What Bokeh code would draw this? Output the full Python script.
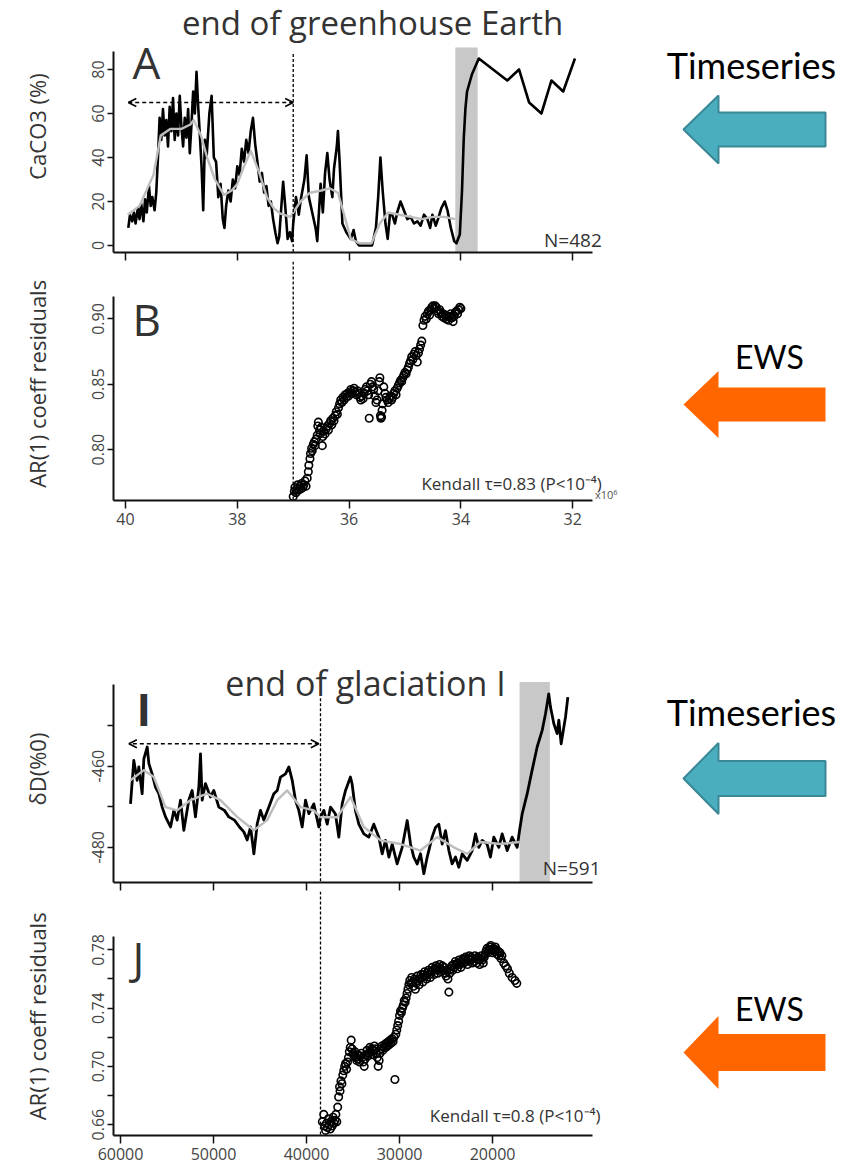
from bokeh.plotting import figure
from bokeh.models import (Range1d, FixedTicker, PrintfTickFormatter, Label, Arrow,
                          OpenHead, Span, Spacer)
from bokeh.layouts import column, row
from bokeh.embed import file_html
from bokeh.resources import INLINE

# ---------------- data: panel A (CaCO3 %, age in Ma) ----------------
A_age = [39.95, 39.92, 39.88, 39.85, 39.82, 39.78, 39.75, 39.72, 39.68, 39.65,
         39.62, 39.58, 39.55, 39.52, 39.48, 39.45, 39.42, 39.39, 39.36, 39.33,
         39.30, 39.27, 39.24, 39.21, 39.18, 39.15, 39.12, 39.09, 39.06, 39.03,
         39.00, 38.97, 38.94, 38.91, 38.88, 38.85, 38.82, 38.79, 38.76, 38.73,
         38.70, 38.67, 38.64, 38.61, 38.58, 38.55, 38.50, 38.46, 38.42, 38.38,
         38.34, 38.30, 38.26, 38.23, 38.20, 38.16, 38.12, 38.08, 38.04, 38.00,
         37.96, 37.92, 37.88, 37.84, 37.80, 37.76, 37.72, 37.68, 37.64, 37.60,
         37.56, 37.52, 37.48, 37.44, 37.40, 37.36, 37.32, 37.28, 37.25, 37.22,
         37.18, 37.14, 37.10, 37.06, 37.02, 37.00, 36.95, 36.90, 36.87, 36.80,
         36.76, 36.72, 36.66, 36.60, 36.57, 36.51, 36.47, 36.43, 36.39, 36.35,
         36.30, 36.27, 36.22, 36.20, 36.17, 36.12, 36.05, 35.97, 35.92, 35.88,
         35.82, 35.70, 35.59, 35.52, 35.48, 35.44, 35.40, 35.35, 35.31, 35.27,
         35.23, 35.18, 35.14, 35.08, 35.02, 34.96, 34.90, 34.84, 34.78, 34.72,
         34.66, 34.60, 34.55, 34.51, 34.45, 34.41, 34.35, 34.29, 34.24, 34.18,
         34.12, 34.08, 34.02, 33.98, 33.95, 33.92, 33.89, 33.80, 33.68, 33.17,
         32.96, 32.78, 32.56, 32.38, 32.17, 31.96]
A_caco3 = [8, 14, 11, 15, 10, 17, 12, 19, 11, 21,
           15, 27, 18, 22, 16, 24, 40, 58, 48, 62,
           50, 57, 45, 63, 52, 67, 48, 60, 50, 68,
           54, 45, 58, 49, 62, 42, 55, 70, 60, 79,
           63, 50, 36, 16, 48, 40, 60, 68, 40, 38,
           22, 28, 12, 8, 18, 25, 20, 30, 26, 36,
           32, 44, 38, 48, 42, 52, 58, 46, 38, 29,
           33, 24, 27, 18, 20, 12, 6, 1, 4, 15,
           29, 17, 3, 6, 2, 10, 22, 14, 20, 30,
           41, 22, 15, 8, 2, 28, 15, 33, 42, 30,
           22, 35, 45, 52, 38, 10, 6, 3, 7, 2,
           0, 0, 0, 8, 22, 40, 25, 10, 3, 14,
           14, 10, 15, 20, 16, 12, 13, 10, 11, 9,
           14, 12, 8, 14, 9, 12, 17, 20, 16, 8,
           2, 1, 5, 25, 48, 62, 70, 78, 85, 75,
           80, 65, 60, 75, 70, 85]
A_smooth_age = [39.96, 39.75, 39.5, 39.37, 39.2, 39.0, 38.84, 38.78, 38.65, 38.54,
                38.4, 38.24, 38.1, 38.0, 37.88, 37.76, 37.62, 37.47, 37.35, 37.23,
                37.05, 36.87, 36.7, 36.5, 36.35, 36.2, 36.1, 35.97, 35.82, 35.6,
                35.45, 35.3, 35.1, 34.9, 34.7, 34.5, 34.3, 34.1]
A_smooth = [14, 18, 32, 50, 53, 53, 55, 57, 50, 40,
            30, 23, 25, 28, 36, 43, 34, 22, 17, 14.5,
            13, 20, 24, 25, 26, 24, 15, 3, 1, 1,
            10, 15, 14, 13, 12, 13, 13, 12]
A_window = [39.95, 37.0]          # rolling window arrow (Ma)
A_window_level = 65
A_onset = 37.0                    # start of indicator (Ma)
A_band = [34.1, 33.7]             # transition band (Ma)
A_yticks = [0, 20, 40, 60, 80]
AB_xticks = [40, 38, 36, 34, 32]

# ---------------- data: panel B (AR(1) of CaCO3 residuals) ----------------
B_age = [37.00, 36.98, 36.97, 36.95, 36.93, 36.92, 36.90, 36.88, 36.86, 36.85,
         36.83, 36.81, 36.79, 36.77, 36.75, 36.73, 36.72, 36.70, 36.69, 36.67,
         36.66, 36.64, 36.62, 36.61, 36.59, 36.57, 36.56, 36.55, 36.53, 36.52,
         36.50, 36.48, 36.47, 36.45, 36.43, 36.41, 36.39, 36.37, 36.35, 36.33,
         36.31, 36.29, 36.27, 36.25, 36.23, 36.21, 36.19, 36.17, 36.15, 36.13,
         36.11, 36.09, 36.07, 36.05, 36.03, 36.01, 35.99, 35.97, 35.95, 35.93,
         35.91, 35.89, 35.87, 35.85, 35.83, 35.81, 35.79, 35.77, 35.75, 35.73,
         35.71, 35.69, 35.67, 35.65, 35.64, 35.62, 35.60, 35.58, 35.56, 35.54,
         35.52, 35.50, 35.48, 35.46, 35.45, 35.44, 35.43, 35.42, 35.41, 35.40,
         35.38, 35.36, 35.34, 35.32, 35.30, 35.28, 35.26, 35.24, 35.22, 35.20,
         35.18, 35.16, 35.14, 35.12, 35.10, 35.08, 35.06, 35.04, 35.02, 35.00,
         34.98, 34.96, 34.94, 34.92, 34.90, 34.88, 34.86, 34.84, 34.82, 34.80,
         34.78, 34.76, 34.74, 34.72, 34.70, 34.68, 34.66, 34.64, 34.62, 34.60,
         34.58, 34.56, 34.54, 34.52, 34.50, 34.48, 34.46, 34.44, 34.42, 34.40,
         34.38, 34.36, 34.34, 34.32, 34.30, 34.28, 34.26, 34.24, 34.22, 34.20,
         34.18, 34.16, 34.14, 34.12, 34.10, 34.08, 34.06, 34.04, 34.02, 34.00]
B_ar1 = [.764, .768, .771, .767, .770, .773, .769, .772, .770, .774,
         .771, .773, .776, .772, .778, .783, .788, .793, .797, .801,
         .799, .804, .806, .803, .808, .811, .818, .821, .815, .812,
         .817, .803, .810, .814, .812, .816, .818, .815, .820, .822,
         .819, .824, .822, .826, .829, .827, .832, .835, .838, .836,
         .840, .838, .842, .840, .843, .841, .844, .846, .843, .845,
         .847, .844, .842, .845, .843, .840, .838, .841, .839, .843,
         .846, .848, .845, .842, .824, .850, .852, .848, .846, .841,
         .836, .838, .845, .852, .855, .826, .824, .825, .830, .835,
         .848, .843, .840, .838, .836, .839, .841, .838, .840, .843,
         .845, .842, .847, .849, .851, .853, .852, .855, .857, .859,
         .858, .861, .863, .866, .868, .871, .869, .873, .875, .872,
         .867, .874, .877, .880, .883, .895, .899, .902, .900, .904,
         .906, .903, .907, .909, .910, .908, .910, .909, .906, .904,
         .907, .905, .902, .904, .901, .903, .900, .902, .899, .902,
         .904, .901, .898, .902, .905, .906, .904, .907, .909, .908]
B_yticks = [0.80, 0.85, 0.90]

# ---------------- data: panel I (deltaD, age in years BP) ----------------
I_age = [58925, 58570, 58210, 58030, 57670, 57490, 57130, 56950, 56600, 56240,
         55880, 55520, 55160, 54620, 54260, 53910, 53550, 53190, 52660, 52300,
         51940, 51580, 51400, 51220, 50870, 50330, 49970, 49430, 48830, 48360,
         47750, 47210, 46740, 46380, 46020, 45660, 45300, 44950, 44590, 44050,
         43520, 43150, 42800, 42260, 41900, 41540, 41190, 40830, 40470, 40110,
         39750, 39220, 38680, 38500, 38140, 37780, 37420, 36890, 36530, 36170,
         35810, 35280, 35100, 34740, 34380, 33840, 33310, 32770, 32230, 31870,
         31510, 31150, 30790, 30260, 29720, 29180, 28820, 28470, 28110, 27750,
         27390, 27030, 26500, 26140, 25780, 25420, 25060, 24700, 24350, 23990,
         23630, 23270, 22730, 22190, 21840, 21480, 21120, 20590, 20230, 19870,
         19330, 18970, 18430, 17900, 17360, 17110, 16820, 16280, 15750, 15210,
         14670, 14310, 13960, 13780, 13420, 13060, 12880, 12630, 12340, 12160,
         11910]
I_dD = [-469.3, -458.6, -463.5, -460.2, -466.8, -458.2, -455.3, -459.4, -461.9, -465.2,
        -466.8, -470.1, -472.5, -475.0, -470.9, -473.3, -468.4, -475.8, -468.4, -466.0,
        -472.5, -465.2, -457.0, -468.4, -464.3, -467.6, -466.0, -470.1, -470.9, -472.5,
        -473.3, -475.0, -476.2, -478.2, -475.0, -481.6, -474.2, -470.9, -473.3, -470.1,
        -466.8, -466.0, -462.7, -461.9, -460.2, -463.5, -468.4, -470.9, -475.0, -468.4,
        -471.7, -469.3, -475.0, -472.6, -470.9, -474.3, -470.1, -471.8, -477.5, -469.3,
        -466.0, -462.7, -464.4, -471.0, -474.3, -476.7, -477.5, -474.3, -477.5, -481.6,
        -478.3, -482.4, -479.2, -484.1, -480.0, -473.4, -479.2, -482.4, -484.1, -481.6,
        -486.5, -482.4, -477.5, -475.1, -474.3, -479.2, -475.9, -480.8, -484.1, -482.4,
        -484.9, -481.6, -483.2, -480.8, -476.7, -480.0, -478.3, -479.2, -482.4, -477.5,
        -480.0, -476.7, -480.8, -477.5, -480.0, -476.0, -471.8, -466.8, -461.0, -455.3,
        -451.2, -447.1, -442.2, -445.4, -449.5, -452.0, -448.7, -454.5, -450.4, -447.9,
        -443.0]
I_smooth_age = [58925, 57490, 56420, 55160, 53910, 52480, 50690, 49250, 47460, 45660,
                44230, 43150, 42080, 40640, 39220, 38500, 36710, 35270, 33840, 32050,
                29900, 27750, 25960, 24170, 22730, 21300, 19150, 17110]
I_smooth = [-463.5, -461.0, -462.7, -470.1, -470.9, -468.4, -466.8, -468.4, -472.5, -475.8,
            -473.3, -468.4, -466.0, -470.1, -470.9, -472.6, -472.6, -467.6, -475.0, -478.3,
            -479.2, -480.8, -477.5, -480.0, -481.6, -478.7, -479.2, -478.7]
I_window = [59100, 38680]
I_window_level = -454.5
I_onset = 38500
I_band = [17100, 13840]
I_major = [-480, -460]
I_minor = [-470, -450]
IJ_xticks = [60000, 50000, 40000, 30000, 20000]

# ---------------- data: panel J (AR(1) of deltaD residuals) ----------------
J_age = [38300, 38150, 38050, 37950, 37850, 37750, 37650, 37550, 37450, 37350,
         37250, 37150, 37050, 36950, 36850, 36750, 36650, 36550, 36450, 36400,
         36300, 36200, 36100, 36000, 35900, 35800, 35700, 35600, 35500, 35400,
         35300, 35200, 35100, 35000, 34900, 34800, 34700, 34600, 34500, 34400,
         34300, 34200, 34100, 34000, 33900, 33800, 33700, 33600, 33500, 33400,
         33300, 33200, 33100, 33000, 32900, 32800, 32700, 32600, 32500, 32400,
         32300, 32200, 32100, 32000, 31900, 31800, 31700, 31600, 31500, 31400,
         31300, 31200, 31100, 31000, 30900, 30800, 30700, 30600, 30500, 30400,
         30300, 30200, 30100, 30000, 29900, 29800, 29700, 29600, 29500, 29400,
         29300, 29200, 29100, 29000, 28900, 28800, 28700, 28600, 28500, 28400,
         28300, 28200, 28100, 28000, 27900, 27800, 27700, 27600, 27500, 27400,
         27300, 27200, 27100, 27000, 26900, 26800, 26700, 26600, 26500, 26400,
         26300, 26200, 26100, 26000, 25900, 25800, 25700, 25600, 25500, 25400,
         25300, 25200, 25100, 25000, 24900, 24800, 24700, 24600, 24500, 24400,
         24300, 24200, 24100, 24000, 23900, 23800, 23700, 23600, 23500, 23400,
         23300, 23200, 23100, 23000, 22900, 22800, 22700, 22600, 22500, 22400,
         22300, 22200, 22100, 22000, 21900, 21800, 21700, 21600, 21500, 21400,
         21300, 21200, 21100, 21000, 20900, 20800, 20700, 20600, 20500, 20400,
         20300, 20200, 20100, 20000, 19900, 19800, 19700, 19600, 19500, 19400,
         19300, 19200, 19100, 19000, 18800, 18600, 18400, 18200, 17900, 17600,
         17400]
J_ar1 = [.662, .667, .659, .656, .661, .658, .664, .660, .657, .662,
         .659, .665, .661, .663, .667, .662, .672, .679, .686, .683,
         .690, .688, .694, .697, .700, .702, .698, .703, .706, .710,
         .713, .718, .712, .709, .707, .710, .706, .704, .708, .705,
         .703, .707, .709, .706, .703, .700, .705, .708, .711, .707,
         .709, .713, .710, .712, .708, .711, .714, .712, .709, .706,
         .700, .704, .709, .712, .714, .711, .713, .715, .713, .716,
         .714, .717, .715, .718, .716, .719, .717, .720, .691, .722,
         .725, .728, .731, .735, .738, .737, .740, .742, .745, .744,
         .747, .750, .753, .756, .759, .757, .761, .758, .755, .760,
         .753, .757, .762, .759, .756, .760, .763, .761, .758, .763,
         .765, .762, .760, .764, .766, .763, .761, .765, .768, .766,
         .763, .767, .769, .766, .764, .768, .770, .767, .765, .769,
         .766, .768, .764, .762, .766, .760, .751, .764, .767, .769,
         .766, .770, .768, .772, .770, .767, .771, .773, .770, .768,
         .772, .774, .771, .773, .775, .772, .770, .774, .776, .773,
         .775, .771, .774, .772, .776, .774, .771, .775, .773, .770,
         .774, .776, .773, .771, .775, .777, .779, .781, .778, .780,
         .782, .783, .780, .778, .781, .779, .782, .780, .777, .779,
         .776, .778, .774, .776, .771, .769, .767, .764, .761, .759,
         .757]
J_major = [0.66, 0.70, 0.74, 0.78]
J_minor = [0.68, 0.72, 0.76]

# ---------------- styling ----------------
FONT = "Open Sans"
SIDE_FONT = "Lato"
TXT = "#333333"
BAND = "#c8c8c8"
SMOOTH = "#bdbdbd"
TEAL = "#4aaebf"
TEAL_EDGE = "#3a8796"
ORANGE = "#ff6600"
LEFT_W = 620
BASE_SHIFT = 0.38   # label anchor correction (fraction of font size)


def panel(height, xr, yr, bottom_border, xbounds, ybounds):
    p = figure(width=LEFT_W, height=height, x_range=Range1d(*xr), y_range=Range1d(*yr),
               output_backend="svg", toolbar_location=None, title=None,
               min_border_left=113, min_border_right=0,
               min_border_top=0, min_border_bottom=bottom_border)
    p.outline_line_color = None
    p.xgrid.visible = False
    p.ygrid.visible = False
    for ax in (p.xaxis[0], p.yaxis[0]):
        ax.axis_line_width = 2
        ax.axis_line_color = "#111111"
        ax.major_tick_line_width = 1.5
        ax.major_tick_line_color = "#111111"
        ax.minor_tick_line_width = 1.5
        ax.minor_tick_line_color = "#111111"
        ax.major_tick_in = 0
        ax.minor_tick_in = 0
        ax.minor_tick_out = 0
        ax.major_label_text_font = FONT
        ax.major_label_text_font_size = "16px"
        ax.major_label_text_color = "#444444"
        ax.axis_label_text_font = FONT
        ax.axis_label_text_font_size = "22px"
        ax.axis_label_text_font_style = "normal"
        ax.axis_label_text_color = TXT
    xa = p.xaxis[0]
    xa.major_tick_out = 8
    xa.major_label_standoff = 4
    xa.bounds = xbounds
    ya = p.yaxis[0]
    ya.major_tick_out = 6
    ya.major_label_orientation = "vertical"
    ya.major_label_standoff = 3
    ya.axis_label_standoff = 38
    ya.bounds = ybounds
    return p


def ticks_only(p, ticks):
    # ticks without numbers: drawn as (full length) minor ticks of the axis
    p.xaxis[0].ticker = FixedTicker(ticks=[], minor_ticks=ticks)
    p.xaxis[0].minor_tick_out = 8


def label(p, x, y, text, size, ppu, align="left", font=FONT, color=TXT, style="normal"):
    y_anchor = y + BASE_SHIFT * size / ppu
    p.add_layout(Label(x=x, y=y_anchor, text=text, text_font=font,
                       text_font_size=f"{size}px", text_font_style=style,
                       text_color=color, text_align=align, text_baseline="alphabetic"))


# ---------------- panel A ----------------
AB_x = (40.215, 31.145)
AB_bounds = (31.646, 40.215)
pA = panel(261, AB_x, (-3.18, 111.36), 9, AB_bounds, (-3.18, 88))
ticks_only(pA, AB_xticks)
pA.yaxis[0].ticker = FixedTicker(ticks=A_yticks)
pA.yaxis[0].axis_label = "CaCO3 (%)"
pA.quad(left=[A_band[0]], right=[A_band[1]], bottom=[-3.18], top=[90],
        fill_color=BAND, line_color=None)
pA.line(A_age, A_caco3, line_color="black", line_width=2.6, line_join="round")
pA.line(A_smooth_age, A_smooth, line_color=SMOOTH, line_width=2.4, line_join="round")
pA.segment(x0=[A_onset], y0=[87], x1=[A_onset], y1=[-3.18], line_color="black",
           line_width=1.3, line_dash="3 2")
pA.add_layout(Arrow(x_start=A_window[1], y_start=A_window_level, x_end=A_window[0],
                    y_end=A_window_level, line_width=1.5, line_dash="4 3",
                    start=OpenHead(size=8, line_width=1.5),
                    end=OpenHead(size=8, line_width=1.5)))
label(pA, 35.58, 95.45, "end of greenhouse Earth", 33, 2.2, align="center")
label(pA, 39.875, 76, "A", 44, 2.2)
label(pA, 31.48, -0.9, "N=482", 19, 2.2, align="right")

# ---------------- panel B ----------------
pB = panel(279, AB_x, (0.761, 0.944), 40, AB_bounds, (0.761, 0.917))
pB.xaxis[0].ticker = FixedTicker(ticks=AB_xticks)
pB.xaxis[0].formatter = PrintfTickFormatter(format="%d")
pB.yaxis[0].ticker = FixedTicker(ticks=B_yticks)
pB.yaxis[0].formatter = PrintfTickFormatter(format="%.2f")
pB.yaxis[0].axis_label = "AR(1) coeff  residuals"
pB.add_layout(Span(location=A_onset, dimension="height", line_color="black",
                   line_width=1.3, line_dash="3 2"))
pB.scatter(B_age, B_ar1, marker="circle", size=7.5, fill_color=None,
           line_color="black", line_width=1.6)
label(pB, 39.875, 0.8873, "B", 44, 1306)
label(pB, 31.48, 0.7687, "Kendall \u03c4=0.83 (P<10\u207b\u2074)", 17, 1306, align="right")
label(pB, 31.6, 0.7625, "x10\u2076", 11, 1306, color="#555555")

# ---------------- panel I ----------------
IJ_x = (60752.5, 6250)
IJ_bounds = (9260, 60752.5)
pI = panel(236, IJ_x, (-488.67, -432.76), 9, IJ_bounds, (-488.67, -440))
ticks_only(pI, IJ_xticks)
pI.yaxis[0].ticker = FixedTicker(ticks=I_major, minor_ticks=I_minor)
pI.yaxis[0].minor_tick_out = 6
pI.yaxis[0].formatter = PrintfTickFormatter(format="%d")
pI.yaxis[0].axis_label = "\u03b4D(%0)"
pI.quad(left=[I_band[0]], right=[I_band[1]], bottom=[-488.67], top=[-439.3],
        fill_color=BAND, line_color=None)
pI.line(I_age, I_dD, line_color="black", line_width=2.8, line_join="round")
pI.line(I_smooth_age, I_smooth, line_color=SMOOTH, line_width=2.4, line_join="round")
pI.segment(x0=[I_onset], y0=[-443.3], x1=[I_onset], y1=[-488.67], line_color="black",
           line_width=1.3, line_dash="3 2")
pI.add_layout(Arrow(x_start=I_window[1], y_start=I_window_level, x_end=I_window[0],
                    y_end=I_window_level, line_width=1.5, line_dash="4 3",
                    start=OpenHead(size=8, line_width=1.5),
                    end=OpenHead(size=8, line_width=1.5)))
label(pI, 33660, -442.6, "end of glaciation I", 34, 4.06, align="center")
label(pI, 58280, -450.0, "I", 44, 4.06, style="bold")
label(pI, 8400, -486.9, "N=591", 19, 4.06, align="right")

# ---------------- panel J ----------------
pJ = panel(283, IJ_x, (0.6525, 0.8201), 39, IJ_bounds, (0.6525, 0.789))
pJ.xaxis[0].ticker = FixedTicker(ticks=IJ_xticks)
pJ.xaxis[0].formatter = PrintfTickFormatter(format="%d")
pJ.yaxis[0].ticker = FixedTicker(ticks=J_major, minor_ticks=J_minor)
pJ.yaxis[0].minor_tick_out = 6
pJ.yaxis[0].formatter = PrintfTickFormatter(format="%.2f")
pJ.yaxis[0].axis_label = "AR(1) coeff  residuals"
pJ.add_layout(Span(location=I_onset, dimension="height", line_color="black",
                   line_width=1.3, line_dash="3 2"))
pJ.scatter(J_age, J_ar1, marker="circle", size=7.5, fill_color=None,
           line_color="black", line_width=1.6)
label(pJ, 58710, 0.7638, "J", 44, 1456)
label(pJ, 8400, 0.6615, "Kendall \u03c4=0.8 (P<10\u207b\u2074)", 17, 1456, align="right")

# ---------------- side annotations ----------------
side = figure(width=866 - LEFT_W, height=1174, x_range=Range1d(LEFT_W, 866),
              y_range=Range1d(1174, 0), output_backend="svg", toolbar_location=None,
              title=None, min_border=0)
side.axis.visible = False
side.grid.visible = False
side.outline_line_color = None


def left_arrow(yc, head, shaft, fill, edge):
    tip, neck, tail = 683, 718, 825
    xs = [tip, neck, neck, tail, tail, neck, neck]
    ys = [yc, yc - head, yc - shaft, yc - shaft, yc + shaft, yc + shaft, yc + head]
    side.patch(xs, ys, fill_color=fill, line_color=edge, line_width=2 if edge else 0)


left_arrow(129, 34, 17, TEAL, TEAL_EDGE)
left_arrow(404, 33.5, 17, ORANGE, None)
left_arrow(778, 35.5, 17.5, TEAL, TEAL_EDGE)
left_arrow(1052, 36.5, 18.5, ORANGE, None)
for yb, txt, xc, sz in [(78, "Timeseries", 751, 36), (368, "EWS", 769, 32),
                        (725, "Timeseries", 751, 36), (1020, "EWS", 769, 32)]:
    label(side, xc, yb, txt, sz, -1, align="center", font=SIDE_FONT, color="black")

left = column(pA, pB, Spacer(width=LEFT_W, height=115), pI, pJ, spacing=0)
layout = row(left, side, spacing=0)

open("out.html", "w").write(file_html(layout, INLINE))
